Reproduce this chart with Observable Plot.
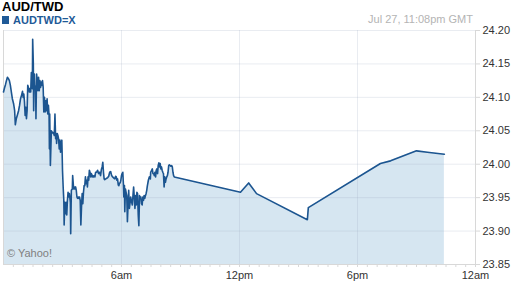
<!DOCTYPE html>
<html>
<head>
<meta charset="utf-8">
<script src="https://cdn.jsdelivr.net/npm/d3@7"></script>
<script src="https://cdn.jsdelivr.net/npm/@observablehq/plot@0.6"></script>
<style>
  html, body { margin: 0; padding: 0; background: #fff; }
  #wrap { position: relative; width: 512px; height: 288px; font-family: "Liberation Sans", Arial, sans-serif; }
  #title { position: absolute; left: 2px; top: -1px; font-size: 13px; font-weight: bold; color: #000; }
  #legend { position: absolute; left: 2px; top: 14px; font-size: 11px; font-weight: bold; color: #1f5a97; display: flex; align-items: center; }
  #legend span.sw { display: inline-block; width: 7px; height: 8px; background: #1f5a97; margin-right: 4px; }
  #stamp { position: absolute; right: 39px; top: 13px; font-size: 11px; color: #b4b4b4; }
  #copy { position: absolute; left: 7px; top: 247px; font-size: 11px; color: #808080; }
  svg { position: absolute; left: 0; top: 0; }
</style>
</head>
<body>
<div id="wrap">
  <div id="chart"></div>
  <div id="title">AUD/TWD</div>
  <div id="legend"><span class="sw"></span>AUDTWD=X</div>
  <div id="stamp">Jul 27, 11:08pm GMT</div>
  <div id="copy">© Yahoo!</div>
</div>
<script>
// minutes after midnight (GMT, Jul 27)
const minutes = [0,3,6,9,12,15,18,21,24,27,31,34,36,39,42,46,49,52,55,58,60,62,64,66,68,70,72,74,77,79,81,83,85,88,89,91,92,94,95,98,99,101,103,105,107,109,111,113,115,117,119,121,123,125,127,129,131,133,135,137,139,140,141,143,146,147,150,153,155,157,159,161,162,164,166,168,170,172,174,176,178,180,182,184,185,187,189,191,193,195,197,199,201,204,205,207,210,211,214,216,218,220,222,224,226,228,230,232,234,236,238,240,242,244,246,248,250,252,254,256,258,260,262,265,266,268,271,272,275,277,279,281,284,287,290,293,296,299,301,303,305,307,309,312,315,318,321,324,327,330,333,337,340,342,344,346,348,350,352,354,356,358,360,362,364,366,367,369,370,372,374,376,378,380,382,384,387,388,391,393,395,397,399,401,403,405,407,409,411,413,415,417,419,421,423,425,427,429,431,433,435,437,439,442,443,445,448,449,452,454,456,458,460,462,464,466,468,470,472,474,476,478,480,482,484,486,488,490,492,494,496,498,500,502,504,506,509,510,513,515,517,519,521,723,748,772,927,930,1150,1181,1260,1293,1345];
const prices = [24.108,24.114,24.119,24.125,24.130,24.128,24.125,24.118,24.108,24.098,24.090,24.080,24.059,24.068,24.073,24.080,24.088,24.098,24.103,24.109,24.100,24.105,24.093,24.073,24.085,24.068,24.080,24.118,24.113,24.108,24.113,24.108,24.137,24.113,24.187,24.150,24.080,24.135,24.118,24.115,24.068,24.135,24.125,24.110,24.130,24.110,24.125,24.115,24.123,24.118,24.125,24.115,24.078,24.100,24.078,24.095,24.080,24.098,24.075,24.088,24.073,24.023,24.075,23.998,24.050,24.046,24.048,24.046,24.043,24.075,24.038,24.046,24.031,24.046,24.043,24.038,24.023,24.036,24.018,24.033,24.036,23.991,23.966,23.946,23.909,23.943,23.926,23.943,23.924,23.946,23.958,23.951,23.956,23.943,23.896,23.961,23.963,23.983,23.963,23.966,23.963,23.966,23.961,23.951,23.949,23.951,23.949,23.951,23.946,23.909,23.936,23.956,23.941,23.958,23.968,23.968,23.981,23.971,23.976,23.966,23.981,23.976,23.991,23.986,23.981,23.986,23.981,23.983,23.981,23.983,23.981,23.988,23.988,23.991,23.986,23.988,23.983,23.993,23.996,24.003,23.988,23.978,23.977,23.978,23.979,23.980,23.982,23.988,23.989,23.983,23.981,23.979,23.978,23.982,23.981,23.976,23.978,23.969,23.968,23.972,23.972,23.976,23.983,23.986,23.988,23.968,23.951,23.968,23.929,23.963,23.958,23.953,23.914,23.939,23.961,23.934,23.946,23.951,23.943,23.939,23.953,23.966,23.951,23.934,23.953,23.939,23.958,23.956,23.924,23.908,23.953,23.949,23.951,23.941,23.939,23.951,23.946,23.953,23.949,23.953,23.956,23.961,23.968,23.976,23.978,23.981,23.978,23.988,23.991,23.993,23.986,23.986,23.983,23.988,23.981,23.991,23.993,23.986,23.998,24.002,23.996,24.001,23.993,23.996,23.991,23.988,23.986,23.966,23.981,23.973,23.978,23.981,23.983,23.988,23.998,23.999,23.998,23.997,23.998,23.996,23.988,23.983,23.981,23.958,23.972,23.956,23.917,23.935,24.001,24.005,24.020,24.018,24.015];

const yTicks = [23.85, 23.90, 23.95, 24.00, 24.05, 24.10, 24.15, 24.20];
const xTickHours = [6, 12, 18, 24];
const xTickLabels = ["6am", "12pm", "6pm", "12am"];
const yMin = 23.85, yMax = 24.20;

const day = (m) => new Date(Date.UTC(2012, 6, 27, 0, m));
const data = minutes.map((m, i) => ({t: day(m), v: prices[i]}));
const majorTicks = xTickHours.map(h => day(h * 60));
const minorTicks = d3.range(1, 48).map(k => day(k * 30));
const labelOf = new Map(majorTicks.map((d, i) => [+d, xTickLabels[i]]));

const chart = Plot.plot({
  width: 512,
  height: 288,
  marginLeft: 3,
  marginRight: 37,
  marginTop: 30,
  marginBottom: 24,
  style: {fontFamily: "Liberation Sans, Arial, sans-serif", fontSize: "11px", color: "#333", background: "transparent"},
  x: {type: "utc", domain: [day(0), day(24 * 60)], label: null},
  y: {domain: [yMin, yMax], label: null},
  marks: [
    Plot.areaY(data, {x: "t", y1: yMin, y2: "v", fill: "#d6e6f1"}),
    Plot.ruleY(yTicks, {stroke: "#9aa8bf", strokeOpacity: 0.22}),
    Plot.ruleX(majorTicks, {stroke: "#9aa8bf", strokeOpacity: 0.22}),
    Plot.ruleX([day(0)], {stroke: "#d8d8d8"}),
    Plot.ruleX([day(24 * 60)], {stroke: "#d8d8d8"}),
    Plot.ruleY([yMin], {stroke: "#d8d8d8"}),
    Plot.lineY(data, {x: "t", y: "v", stroke: "#1c5590", strokeWidth: 1.6, curve: "linear"}),
    Plot.axisY({anchor: "right", label: null, ticks: yTicks, tickFormat: d3.format(".2f"), tickSize: 4, tickPadding: 3, stroke: "#d8d8d8", fill: "#333"}),
    Plot.axisX({label: null, ticks: minorTicks, tickSize: 3, tickFormat: () => "", stroke: "#d8d8d8"}),
    Plot.axisX({label: null, ticks: majorTicks, tickSize: 3, tickPadding: 4, tickFormat: d => labelOf.get(+d), stroke: "#d8d8d8", fill: "#333"})
  ]
});
document.getElementById("chart").appendChild(chart);
</script>
</body>
</html>
